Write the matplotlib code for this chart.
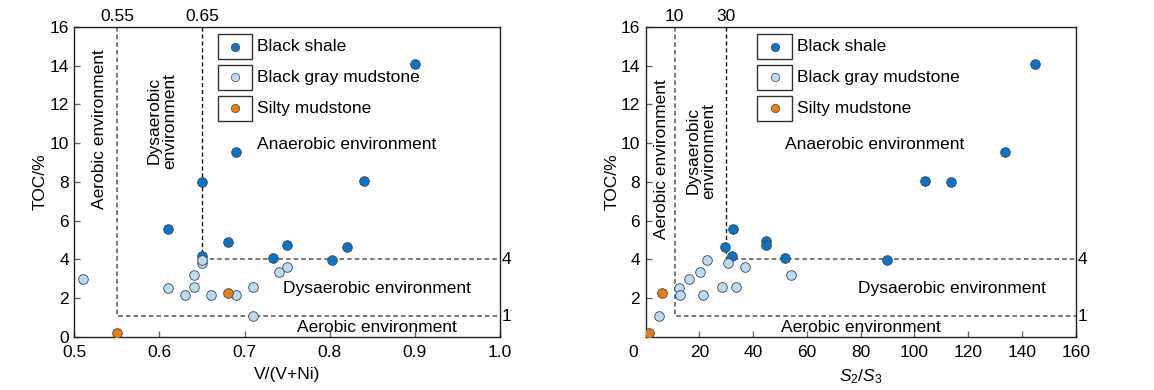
import matplotlib
matplotlib.use("Agg")
import matplotlib.pyplot as plt
from matplotlib.patches import Rectangle
from matplotlib.transforms import ScaledTranslation

plt.rcParams['font.family'] = ['Liberation Sans', 'DejaVu Sans']
plt.rcParams['font.size'] = 12.5
plt.rcParams['mathtext.fontset'] = 'custom'
plt.rcParams['mathtext.it'] = 'Liberation Sans:italic'
plt.rcParams['mathtext.rm'] = 'Liberation Sans'

# ---- data: V/(V+Ni) panel ----
vni_shale_x = [0.90, 0.69, 0.65, 0.84, 0.61, 0.68, 0.75, 0.82, 0.65, 0.733, 0.803]
vni_shale_y = [14.1, 9.53, 8.0, 8.03, 5.56, 4.9, 4.73, 4.66, 4.16, 4.08, 3.96]
vni_gray_x = [0.51, 0.65, 0.65, 0.64, 0.64, 0.61, 0.63, 0.66, 0.69, 0.71, 0.74, 0.75, 0.71]
vni_gray_y = [2.98, 3.82, 3.99, 3.2, 2.6, 2.51, 2.18, 2.18, 2.15, 2.6, 3.37, 3.61, 1.1]
vni_silty_x = [0.55, 0.68]
vni_silty_y = [0.22, 2.25]

# ---- data: S2/S3 panel ----
s23_shale_x = [144.7, 133.6, 103.8, 113.6, 32.6, 29.5, 44.6, 44.6, 32.2, 51.7, 89.8]
s23_shale_y = [14.1, 9.53, 8.03, 8.0, 5.56, 4.65, 4.94, 4.73, 4.16, 4.08, 3.96]
s23_gray_x = [5.1, 12.5, 12.8, 16.1, 20.2, 22.9, 21.2, 28.5, 30.8, 33.6, 36.8, 54.0]
s23_gray_y = [1.1, 2.55, 2.18, 2.98, 3.35, 3.99, 2.15, 2.6, 3.82, 2.6, 3.61, 3.2]
s23_silty_x = [1.1, 6.1]
s23_silty_y = [0.22, 2.25]

# thresholds
vni_lines = (0.55, 0.65)
vni_labels = ("0.55", "0.65")
s23_lines = (10.8, 30)
s23_labels = ("10", "30")
toc_lines = (1.08, 4)
toc_labels = ("1", "4")

legend_names = ["Black shale", "Black gray mudstone", "Silty mudstone"]
c_shale = "#0a74c8"
c_gray = "#b9dcf6"
c_silty = "#ea7d14"
colors = [c_shale, c_gray, c_silty]

fig = plt.figure(figsize=(11.54, 3.9), dpi=100)
ax1 = fig.add_axes([0.0644, 0.1359, 0.3689, 0.7956])
ax2 = fig.add_axes([0.5595, 0.1359, 0.3727, 0.7956])


def draw_panel(ax, xlim, xticks, vlines, vlabels, sets, legx, texts):
    ax.set_xlim(*xlim)
    ax.set_ylim(0, 16)
    ax.set_xticks(xticks)
    ax.tick_params(direction="in", length=4, color="#666666", width=1)
    ax.tick_params(axis="x", pad=6)
    ax.tick_params(axis="y", pad=4)
    for s in ax.spines.values():
        s.set_linewidth(1.0)
        s.set_color("#222222")

    x0, x1 = vlines
    ax.plot([x0, x0, xlim[1]], [16, toc_lines[0], toc_lines[0]], ls=(0, (3, 2)),
            color="#555555", lw=1.1, zorder=1)
    ax.plot([x1, x1], [16, toc_lines[1]], ls=(0, (3, 2)), color="#111111", lw=1.0, zorder=1)
    ax.plot([x1, xlim[1]], [toc_lines[1], toc_lines[1]], ls=(0, (3, 2)),
            color="#555555", lw=1.1, zorder=1)

    for xv, lab in zip(vlines, vlabels):
        ax.text(xv, 16.3, lab, ha="center", va="baseline")
    for yv, lab in zip(toc_lines, toc_labels):
        ax.text(xlim[1] + (xlim[1] - xlim[0]) * 0.004, yv, lab, ha="left", va="center")

    for (xs, ys), col in zip(sets, colors):
        ax.scatter(xs, ys, s=48, c=col, edgecolors="#444444", linewidths=0.6, zorder=3)

    # legend boxes
    ys_leg = [0.936, 0.837, 0.737]
    for yc, name, col in zip(ys_leg, legend_names, colors):
        ax.add_patch(Rectangle((legx, yc - 0.04), 0.08, 0.08, transform=ax.transAxes,
                               fill=False, edgecolor="#333333", lw=1.0, zorder=2))
        ax.scatter([legx + 0.04], [yc], s=36, c=col, edgecolors="#444444",
                   linewidths=0.5, transform=ax.transAxes, zorder=3)
        ax.text(legx + 0.091, yc, name, transform=ax.transAxes, ha="left", va="center")

    for (tx, ty, t, rot, ha) in texts:
        ax.text(tx, ty, t, rotation=rot, ha=ha, va="center", linespacing=1.05)
    ax.set_ylabel("TOC/%", labelpad=1)


draw_panel(ax1, (0.5, 1.0), [0.5, 0.6, 0.7, 0.8, 0.9, 1.0], vni_lines, vni_labels,
           [(vni_shale_x, vni_shale_y), (vni_gray_x, vni_gray_y), (vni_silty_x, vni_silty_y)],
           0.337,
           [(0.529, 10.7, "Aerobic environment", 90, "center"),
            (0.603, 11.15, "Dysaerobic\nenvironment", 90, "center"),
            (0.714, 9.94, "Anaerobic environment", 0, "left"),
            (0.745, 2.48, "Dysaerobic environment", 0, "left"),
            (0.761, 0.48, "Aerobic environment", 0, "left")])
ax1.set_yticks(range(0, 17, 2))
ax1.set_xticklabels(["0.5", "0.6", "0.7", "0.8", "0.9", "1.0"])
ax1.set_xlabel("V/(V+Ni)", labelpad=5)

draw_panel(ax2, (0, 160), range(0, 161, 20), s23_lines, s23_labels,
           [(s23_shale_x, s23_shale_y), (s23_gray_x, s23_gray_y), (s23_silty_x, s23_silty_y)],
           0.26,
           [(5.95, 9.19, "Aerobic environment", 90, "center"),
            (20.5, 9.6, "Dysaerobic\nenvironment", 90, "center"),
            (51.8, 9.94, "Anaerobic environment", 0, "left"),
            (79.1, 2.48, "Dysaerobic environment", 0, "left"),
            (50.2, 0.48, "Aerobic environment", 0, "left")])
ax2.set_yticks(range(2, 17, 2))
ax2.set_xlabel("$S_2$/$S_3$", labelpad=5)
# the "0" label sits a little left of its tick in the original
lab0 = ax2.get_xticklabels()[0]
lab0.set_transform(lab0.get_transform() + ScaledTranslation(-0.12, 0, fig.dpi_scale_trans))

fig.savefig("out.png", dpi=100)
